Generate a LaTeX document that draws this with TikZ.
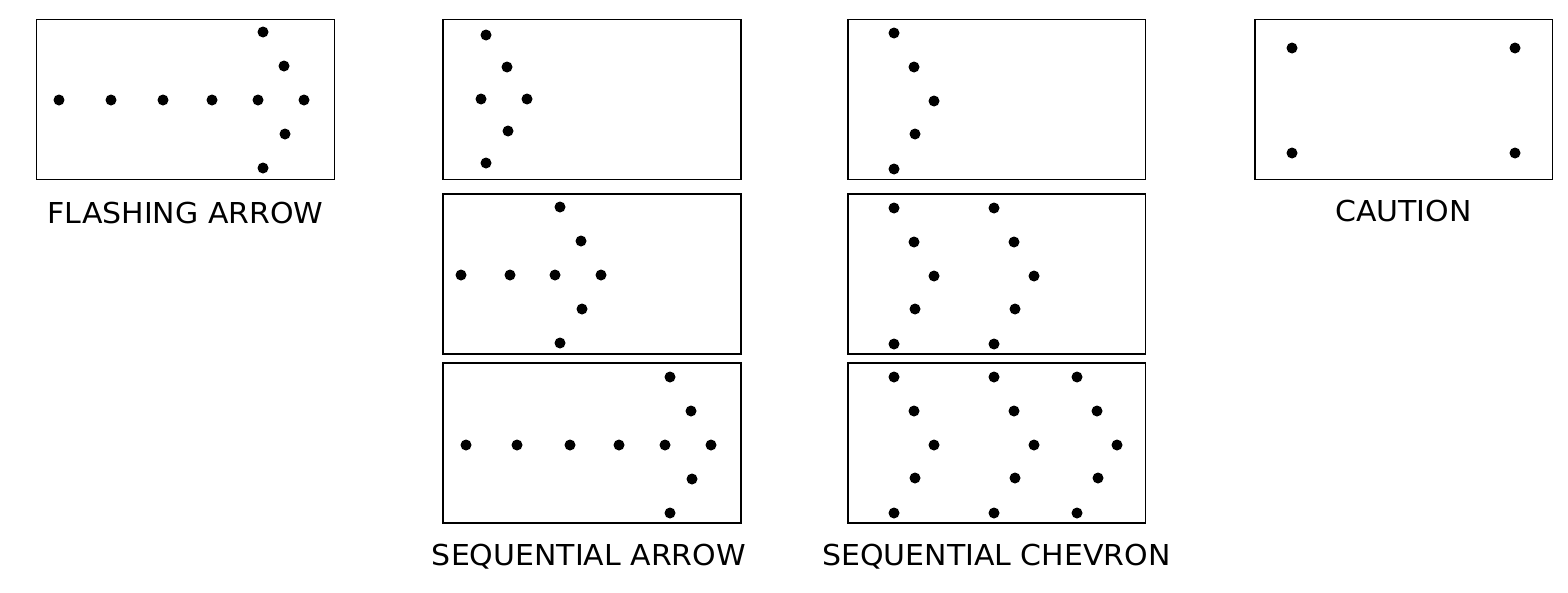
\documentclass[tikz,border=0pt]{standalone}
\usepackage{fontspec}
\setmainfont{DejaVu Sans}[FakeStretch=1.04]
\usepackage{tikz}
\usetikzlibrary{positioning}
\tikzstyle{panel}=[draw, line width=1.1pt, minimum width=5.96cm, minimum height=3.2cm, inner sep=0pt]
\tikzstyle{lamp}=[circle, fill=black, minimum size=0.22cm, inner sep=0pt]
\tikzstyle{caption}=[font=\fontsize{16.4}{19}\selectfont, inner sep=0pt]

\begin{document}
\begin{tikzpicture}[x=0.02cm, y=-0.02cm]
      \useasboundingbox (0,0) rectangle (1568,592);

      % panels
      \node [panel] (flash) at (185.5,99.5) {};
      \foreach \r [count=\i] in {99.5,274,443}{
        \node [panel] (seq-\i) at (592,\r) {};
        \node [panel] (chev-\i) at (996.5,\r) {};
      }
      \node [panel] (caution) at (1403.5,99.5) {};

      % captions
      \node [caption, below=0.42cm of flash.south] (flash-cap) {FLASHING ARROW};
      \node [caption, below=0.40cm of seq-3.south, xshift=-0.06cm] (seq-cap) {SEQUENTIAL ARROW};
      \node [caption, below=0.40cm of chev-3.south] (chev-cap) {SEQUENTIAL CHEVRON};
      \node [caption, below=0.38cm of caution.south] (caution-cap) {CAUTION};

      % arrow heads
      \foreach \p/\tx/\ty/\h in {flash/304/100/68, seq-1/527/99/64, seq-2/601/275/68, seq-3/711/445/68}{
        \foreach \dx/\dy [count=\k] in {-41/-1, -20/-0.5, -46/0, 0/0, -19/0.5, -41/1}
          \node [lamp] (\p-h\k) at (\tx+\dx,\ty+\dy*\h) {};
      }

      % arrow shafts
      \foreach \x [count=\k] in {59,111,163,212}
        \node [lamp] (flash-s\k) at (\x,100) {};
      \foreach \x [count=\k] in {461,510}
        \node [lamp] (seq-2-s\k) at (\x,275) {};
      \foreach \x [count=\k] in {466,517,570,619}
        \node [lamp] (seq-3-s\k) at (\x,445) {};

      % chevrons
      \foreach \p/\tx/\ty [count=\c] in {chev-1/934/101, chev-2/934/276, chev-2/1034/276,
                                         chev-3/934/445, chev-3/1034/445, chev-3/1117/445}{
        \foreach \dx/\dy [count=\k] in {-40/-68, -20/-34, 0/0, -19/33, -40/68}
          \node [lamp] (\p-c\c-\k) at (\tx+\dx,\ty+\dy) {};
      }

      % caution lamps
      \node [lamp] (caution-1) at (1292,48) {};
      \node [lamp] (caution-2) at (1515,48) {};
      \node [lamp] (caution-3) at (1292,153) {};
      \node [lamp] (caution-4) at (1515,153) {};
    \end{tikzpicture}
\end{document}
